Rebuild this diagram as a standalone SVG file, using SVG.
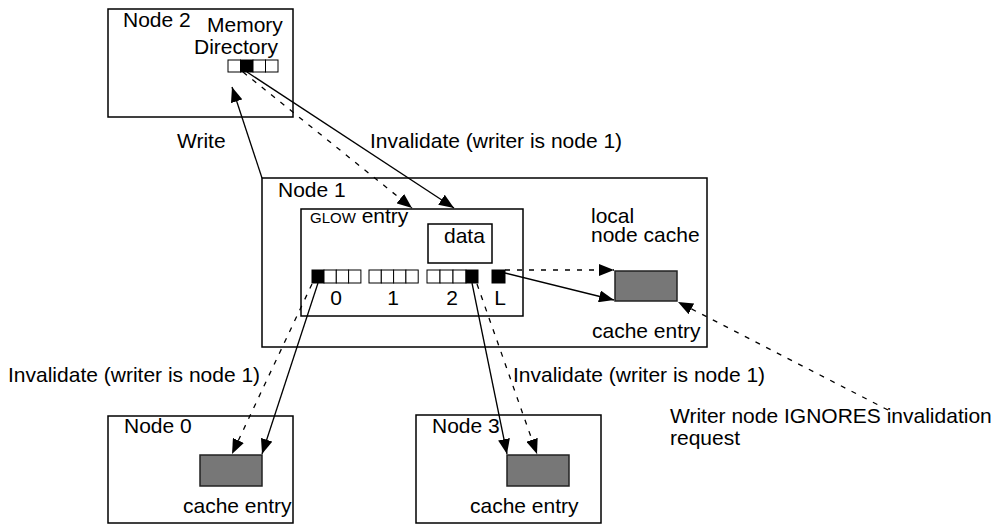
<svg xmlns="http://www.w3.org/2000/svg" width="1005" height="529" viewBox="0 0 1005 529">
<defs>
<style>
text{font-family:"Liberation Sans",Arial,sans-serif;font-size:21px;fill:#000}
.box{fill:#fff;stroke:#000;stroke-width:1.5}
.ce{fill:#777;stroke:#222;stroke-width:1.5}
.cell{fill:#fff;stroke:#000;stroke-width:1}
.blk{fill:#000;stroke:#000;stroke-width:1}
.ln{fill:none;stroke:#000;stroke-width:1.3}
.ds{fill:none;stroke:#000;stroke-width:1.3;stroke-dasharray:5 7}
</style>
<marker id="ah" markerUnits="userSpaceOnUse" markerWidth="16" markerHeight="12" viewBox="0 0 16 12" refX="15" refY="6" orient="auto">
<path d="M0,0 L15,6 L0,12 Z" fill="#000"/>
</marker>
</defs>

<g id="node2">
<rect class="box" x="108" y="9" width="185" height="108"/>
<text x="123" y="27">Node 2</text>
<text x="207" y="32">Memory</text>
<text x="194" y="54">Directory</text>
<rect class="cell" x="228" y="60" width="12.5" height="12"/>
<rect class="blk" x="240.5" y="60" width="12.5" height="12"/>
<rect class="cell" x="253" y="60" width="12.5" height="12"/>
<rect class="cell" x="265.5" y="60" width="12.5" height="12"/>
</g>

<g id="node1">
<rect class="box" x="262" y="178" width="445" height="169"/>
<text x="278" y="197">Node 1</text>
<text x="591" y="223">local</text>
<text x="591" y="242">node cache</text>
<rect class="ce" x="615" y="271" width="62" height="30"/>
<text x="592" y="338">cache entry</text>
</g>

<g id="glow">
<rect class="box" x="301" y="209" width="222" height="107"/>
<text x="310" y="223"><tspan style="font-size:15px">GLOW</tspan> entry</text>
<rect class="box" x="428" y="224" width="64" height="39"/>
<text x="444" y="243">data</text>
<rect class="blk" x="312" y="270" width="12" height="13"/>
<rect class="cell" x="324" y="270" width="12.3" height="13"/>
<rect class="cell" x="336.3" y="270" width="12.3" height="13"/>
<rect class="cell" x="348.6" y="270" width="12.3" height="13"/>
<rect class="cell" x="369" y="270" width="12.3" height="13"/>
<rect class="cell" x="381.3" y="270" width="12.3" height="13"/>
<rect class="cell" x="393.6" y="270" width="12.3" height="13"/>
<rect class="cell" x="405.9" y="270" width="12.3" height="13"/>
<rect class="cell" x="427" y="270" width="13" height="13"/>
<rect class="cell" x="440" y="270" width="13" height="13"/>
<rect class="cell" x="453" y="270" width="13" height="13"/>
<rect class="blk" x="466" y="270" width="12" height="13"/>
<rect class="blk" x="492" y="270" width="13" height="13"/>
<text x="336" y="305" text-anchor="middle">0</text>
<text x="393" y="305" text-anchor="middle">1</text>
<text x="452" y="305" text-anchor="middle">2</text>
<text x="500" y="305" text-anchor="middle">L</text>
</g>

<g id="node0">
<rect class="box" x="108" y="416" width="185" height="107"/>
<text x="124" y="433">Node 0</text>
<rect class="ce" x="200" y="455" width="62" height="31"/>
<text x="183" y="513">cache entry</text>
</g>

<g id="node3">
<rect class="box" x="416" y="415" width="185" height="108"/>
<text x="432" y="433">Node 3</text>
<rect class="ce" x="507" y="455" width="62" height="31"/>
<text x="470" y="513">cache entry</text>
</g>

<g id="labels">
<text x="177" y="148">Write</text>
<text x="370" y="148">Invalidate (writer is node 1)</text>
<text x="8" y="382">Invalidate (writer is node 1)</text>
<text x="513" y="382">Invalidate (writer is node 1)</text>
<text x="670" y="423">Writer node IGNORES invalidation</text>
<text x="670" y="445">request</text>
</g>

<g id="connectors">
<line class="ln" x1="262" y1="178" x2="232" y2="87" marker-end="url(#ah)"/>
<line class="ln" x1="247" y1="72" x2="454" y2="208" marker-end="url(#ah)"/>
<line class="ds" x1="243" y1="72" x2="412" y2="208" marker-end="url(#ah)"/>
<line class="ds" x1="505" y1="270" x2="614" y2="270" marker-end="url(#ah)"/>
<line class="ln" x1="505" y1="273" x2="614" y2="300" marker-end="url(#ah)"/>
<line class="ds" x1="888" y1="410" x2="678" y2="302" marker-end="url(#ah)"/>
<line class="ln" x1="318" y1="283" x2="262" y2="454" marker-end="url(#ah)"/>
<line class="ds" x1="312" y1="284" x2="232" y2="454" marker-end="url(#ah)"/>
<line class="ln" x1="472" y1="283" x2="507" y2="454" marker-end="url(#ah)"/>
<line class="ds" x1="477" y1="284" x2="537" y2="454" marker-end="url(#ah)"/>
</g>
</svg>
